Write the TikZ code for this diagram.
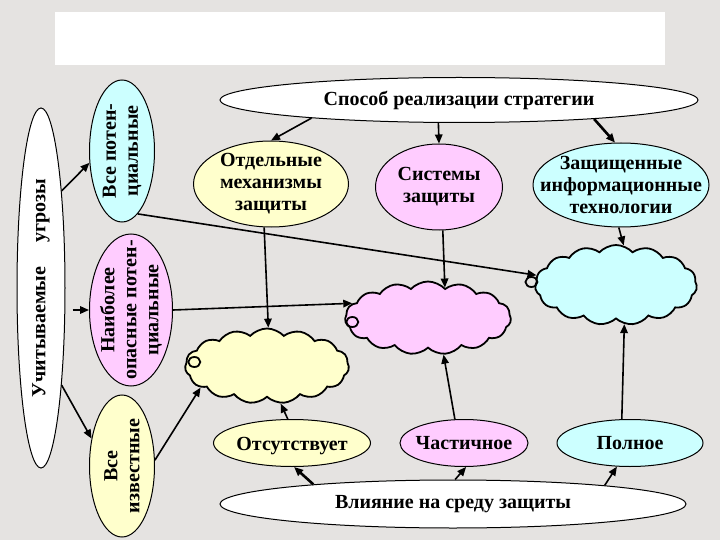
\documentclass[tikz,border=0pt]{standalone}
\usepackage{fontspec}
\setmainfont{Liberation Serif}
\usepackage[dvipsnames]{xcolor}
\definecolor{BGcolor}{HTML}{E5E3E1}
\definecolor{YLcolor}{HTML}{FFFFCC}
\definecolor{PKcolor}{HTML}{FFCCFF}
\definecolor{CYcolor}{HTML}{CCFFFF}
\usepackage{tikz}
\usetikzlibrary{shapes.geometric, shapes.symbols, arrows.meta}

\begin{document}
\begin{tikzpicture}[x=1pt, y=-1pt]

    \tikzset{%
        lbl/.style={font=\bfseries\fontsize{20}{22}\selectfont, align=center, inner sep=0pt},
        oval/.style={ellipse, draw, line width=1pt, inner sep=0pt},
        puff/.style={cloud, draw, line width=1.8pt, cloud puffs=15, cloud puff arc=95,
                cloud ignores aspect, inner sep=0pt},
        arr/.style={line width=1.6pt, -{Triangle[length=9pt, width=7.5pt]}},
        thickarr/.style={arr, line width=2.6pt},
        curl/.style={line width=1.8pt}
    }

    \fill [BGcolor] (0, 0) rectangle (720, 540);
    \useasboundingbox (0, 0) rectangle (720, 540);
    \fill [white] (55, 12) rectangle (665, 65);

    \node [oval, fill=white, minimum width=48pt, minimum height=360pt,
        label={[lbl, rotate=90]center:Учитываемые\hspace{1.2em}угрозы}] (threats) at (41, 288) {};
    \node [oval, fill=CYcolor, minimum width=65pt, minimum height=142pt,
        label={[lbl, rotate=90]center:{Все потен-\\циальные}}] (allPot) at (122, 151) {};
    \node [oval, fill=PKcolor, minimum width=83pt, minimum height=152pt,
        label={[lbl, rotate=90]center:{Наиболее\\опасные потен-\\циальные}}] (dangerPot) at (131, 310) {};
    \node [oval, fill=YLcolor, minimum width=65pt, minimum height=142pt,
        label={[lbl, rotate=90]center:{Все\\известные}}] (allKnown) at (122, 466) {};

    \node [oval, fill=white, minimum width=478pt, minimum height=45pt,
        label={[lbl]center:Способ реализации стратегии}] (strategy) at (459, 100) {};
    \node [oval, fill=YLcolor, minimum width=155pt, minimum height=86pt,
        label={[lbl]center:{Отдельные\\механизмы\\защиты}}] (mechs) at (271, 184) {};
    \node [oval, fill=PKcolor, minimum width=127pt, minimum height=86pt,
        label={[lbl]center:{Системы\\защиты}}] (systems) at (439, 187) {};
    \node [oval, fill=CYcolor, minimum width=176pt, minimum height=84pt,
        label={[lbl]center:{Защищенные\\информационные\\технологии}}] (techs) at (621, 185) {};

    \node [puff, fill=YLcolor, minimum width=164pt, minimum height=75pt] (cloudMech) at (267, 366) {};
    \node [puff, fill=PKcolor, minimum width=166pt, minimum height=73pt] (cloudSys) at (428, 318) {};
    \node [puff, fill=CYcolor, minimum width=162pt, minimum height=80pt] (cloudTech) at (616, 285) {};

    \draw [curl] ([shift={(10pt, 4pt)}]cloudMech.west) ellipse (6pt and 5pt);
    \draw [curl] ([shift={(8pt, -4pt)}]cloudSys.west) ellipse (6pt and 5pt);
    \draw [curl] ([shift={(-3pt, 3pt)}]cloudTech.west) ellipse (6pt and 5pt);

    \node [oval, fill=YLcolor, minimum width=157pt, minimum height=47pt,
        label={[lbl, yshift=-3pt]center:Отсутствует}] (none) at (292, 443) {};
    \node [oval, fill=PKcolor, minimum width=128pt, minimum height=47pt,
        label={[lbl]center:Частичное}] (partial) at (464, 443) {};
    \node [oval, fill=CYcolor, minimum width=146pt, minimum height=47pt,
        label={[lbl]center:Полное}] (full) at (630, 443) {};
    \node [oval, fill=white, minimum width=466pt, minimum height=48pt,
        label={[lbl]center:Влияние на среду защиты}] (influence) at (453, 504) {};

    \draw [arr] (threats.78) -- (allPot.200);
    \draw [arr] ([shift={(7pt, -22pt)}]threats.east) -- (dangerPot.west);
    \draw [arr] (threats.282) -- (allKnown.138);

    \draw [arr] (strategy.187) -- (mechs.north);
    \draw [arr] (strategy.228) -- (systems.north);
    \draw [thickarr] (strategy.352) -- (techs.98);

    \draw [arr] (mechs.261) -- (cloudMech.88);
    \draw [arr] (systems.275) -- (cloudSys.61);
    \draw [arr] (techs.267) -- (cloudTech.79);

    \draw [arr] (allPot.284) -- (cloudTech.173);
    \draw [arr] (dangerPot.east) -- (cloudSys.169);
    \draw [arr] (allKnown.10) -- (cloudMech.198);

    \draw [arr] (none.100) -- (cloudMech.290);
    \draw [arr] (partial.111) -- (cloudSys.293);
    \draw [arr] (full.109) -- (cloudTech.282);

    \draw [thickarr] (influence.172) -- (none.275);
    \draw [arr] (influence.85) -- (partial.275);
    \draw [arr] (influence.7) -- (full.241);

\end{tikzpicture}
\end{document}
